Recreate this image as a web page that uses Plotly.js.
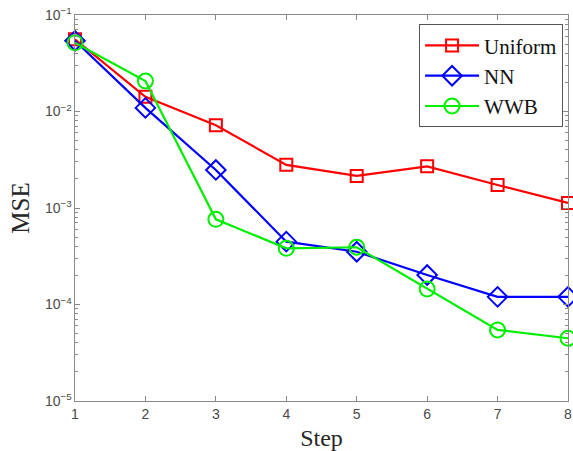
<!DOCTYPE html>
<html><head><meta charset="utf-8">
<script src="https://cdn.plot.ly/plotly-3.0.1.min.js"></script>
<style>html,body{margin:0;padding:0;background:#fff}#chart{width:573px;height:451px}</style>
</head><body><div id="chart"></div>
<script>
const steps = [1, 2, 3, 4, 5, 6, 7, 8];
const uniformMSE = [0.056, 0.0142, 0.0072, 0.0028, 0.00215, 0.0027, 0.00173, 0.00113];
const nnMSE = [0.054, 0.0109, 0.00248, 0.000448, 0.000352, 0.000202, 0.00012, 0.00012];
const wwbMSE = [0.0515, 0.0207, 0.000764, 0.000382, 0.000392, 0.000145, 0.0000545, 0.0000447];
const seriesNames = ['Uniform', 'NN', 'WWB'];
const seriesColors = ['#ff0000', '#0000ff', '#00ee00'];
const seriesSymbols = ['square-open', 'diamond-open', 'circle-open'];
const seriesSizes = [12, 15, 15];
const seriesData = [uniformMSE, nnMSE, wwbMSE];

const traces = seriesData.map((ys, i) => ({
  x: steps, y: ys, type: 'scatter', mode: 'lines+markers',
  name: seriesNames[i],
  legendgroup: 'g' + i,
  line: {color: seriesColors[i], width: 2.2},
  marker: {symbol: seriesSymbols[i], size: seriesSizes[i], color: seriesColors[i], line: {color: seriesColors[i], width: 2}},
  cliponaxis: false
}));

const axisCommon = {
  showline: true, linecolor: '#8a8a8a', linewidth: 1, mirror: 'ticks',
  ticks: 'inside', tickcolor: '#8a8a8a', ticklen: 5, showgrid: false, zeroline: false,
  tickfont: {family: 'Liberation Sans, Arial, sans-serif', size: 14, color: '#4a4a4a'}
};

const layout = {
  width: 573, height: 451,
  margin: {l: 75, r: 5, t: 15, b: 50},
  paper_bgcolor: '#fff', plot_bgcolor: '#fff',
  showlegend: true,
  xaxis: Object.assign({}, axisCommon, {
    range: [1, 8], dtick: 1, tick0: 1,
    title: {text: 'Step', font: {family: 'Liberation Serif, Times New Roman, serif', size: 24, color: '#262626'}, standoff: 9}
  }),
  yaxis: Object.assign({}, axisCommon, {
    type: 'log', range: [-5, -1], dtick: 1, exponentformat: 'power',
    tickfont: {family: 'Liberation Sans, Arial, sans-serif', size: 11.2, color: '#4a4a4a'},
    minor: {dtick: 'D1', ticks: 'inside', ticklen: 3, tickcolor: '#8a8a8a', showgrid: false},
    title: {text: 'MSE', font: {family: 'Liberation Serif, Times New Roman, serif', size: 25, color: '#262626'}, standoff: 8}
  }),
  legend: {
    x: 0.99, xanchor: 'right', y: 0.976, yanchor: 'top',
    bordercolor: '#555', borderwidth: 1, bgcolor: '#fff',
    font: {family: 'Liberation Serif, Times New Roman, serif', size: 21, color: '#111'},
    traceorder: 'grouped', tracegroupgap: 0, itemwidth: 54
  }
};

Plotly.newPlot('chart', traces, layout, {displayModeBar: false, staticPlot: true});
</script></body></html>
